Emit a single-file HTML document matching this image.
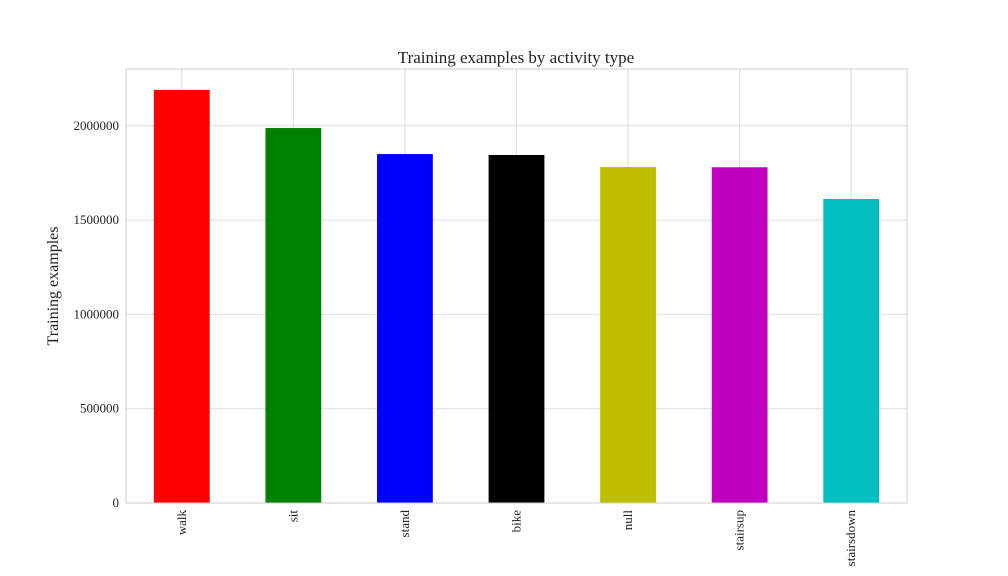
<!DOCTYPE html>
<html><head><meta charset="utf-8"><style>
body{margin:0;background:#fff;}
svg{display:block;font-family:"Liberation Serif","DejaVu Serif",serif;}
</style></head><body>
<svg id="chart" width="1008" height="576">
<text x="516" y="63" font-size="17" text-anchor="middle" fill="#222">Training examples by activity type</text>
<text transform="translate(58,286) rotate(-90)" font-size="16" text-anchor="middle" fill="#222">Training examples</text>
<g id="grid"></g><g id="bars"></g><g id="ticks"></g>
<rect x="126" y="69" width="781" height="434" fill="none" stroke="#ccc" stroke-width="1"/>
</svg>
<script>
const categories=["walk","sit","stand","bike","null","stairsup","stairsdown"];
const values=[2190000,1988000,1850000,1845000,1781000,1780000,1612000];
const colors=["#ff0000","#008000","#0000ff","#000000","#bfbf00","#bf00bf","#00bfbf"];
const yTicks=[0,500000,1000000,1500000,2000000];
const yTickLabels=["0","500000","1000000","1500000","2000000"];
const L=126,R=907,T=69,B=503,yMax=2301000;
const ns="http://www.w3.org/2000/svg";
const y=v=>B-(v/yMax)*(B-T);
const step=(R-L)/categories.length;
const xc=i=>L+step*(i+0.5);
function mk(tag,attrs,parent){const e=document.createElementNS(ns,tag);for(const k in attrs)e.setAttribute(k,attrs[k]);document.getElementById(parent).appendChild(e);return e;}
yTicks.forEach((t,i)=>{
 const g=mk('line',{x1:L,x2:R,y1:y(t),y2:y(t),stroke:'#ddd','stroke-width':1},'grid');
 
 
 const tx=mk('text',{x:L-7,y:y(t)+4,'font-size':13,'text-anchor':'end',fill:'#222'},'ticks');
 tx.textContent=yTickLabels[i];
 
 
});
categories.forEach((c,i)=>{
 const g=mk('line',{x1:xc(i),x2:xc(i),y1:T,y2:B,stroke:'#ddd','stroke-width':1},'grid');
 
 
 const w=step*0.5;
 const r=mk('rect',{x:xc(i)-w/2,y:y(values[i]),width:w,height:B-y(values[i]),fill:colors[i]},'bars');
 
 
 const tx=mk('text',{transform:`translate(${xc(i)+4},510) rotate(-90)`,'font-size':13,'text-anchor':'end',fill:'#222'},'ticks');
 tx.textContent=c;
 
 
});
</script>
</body></html>
